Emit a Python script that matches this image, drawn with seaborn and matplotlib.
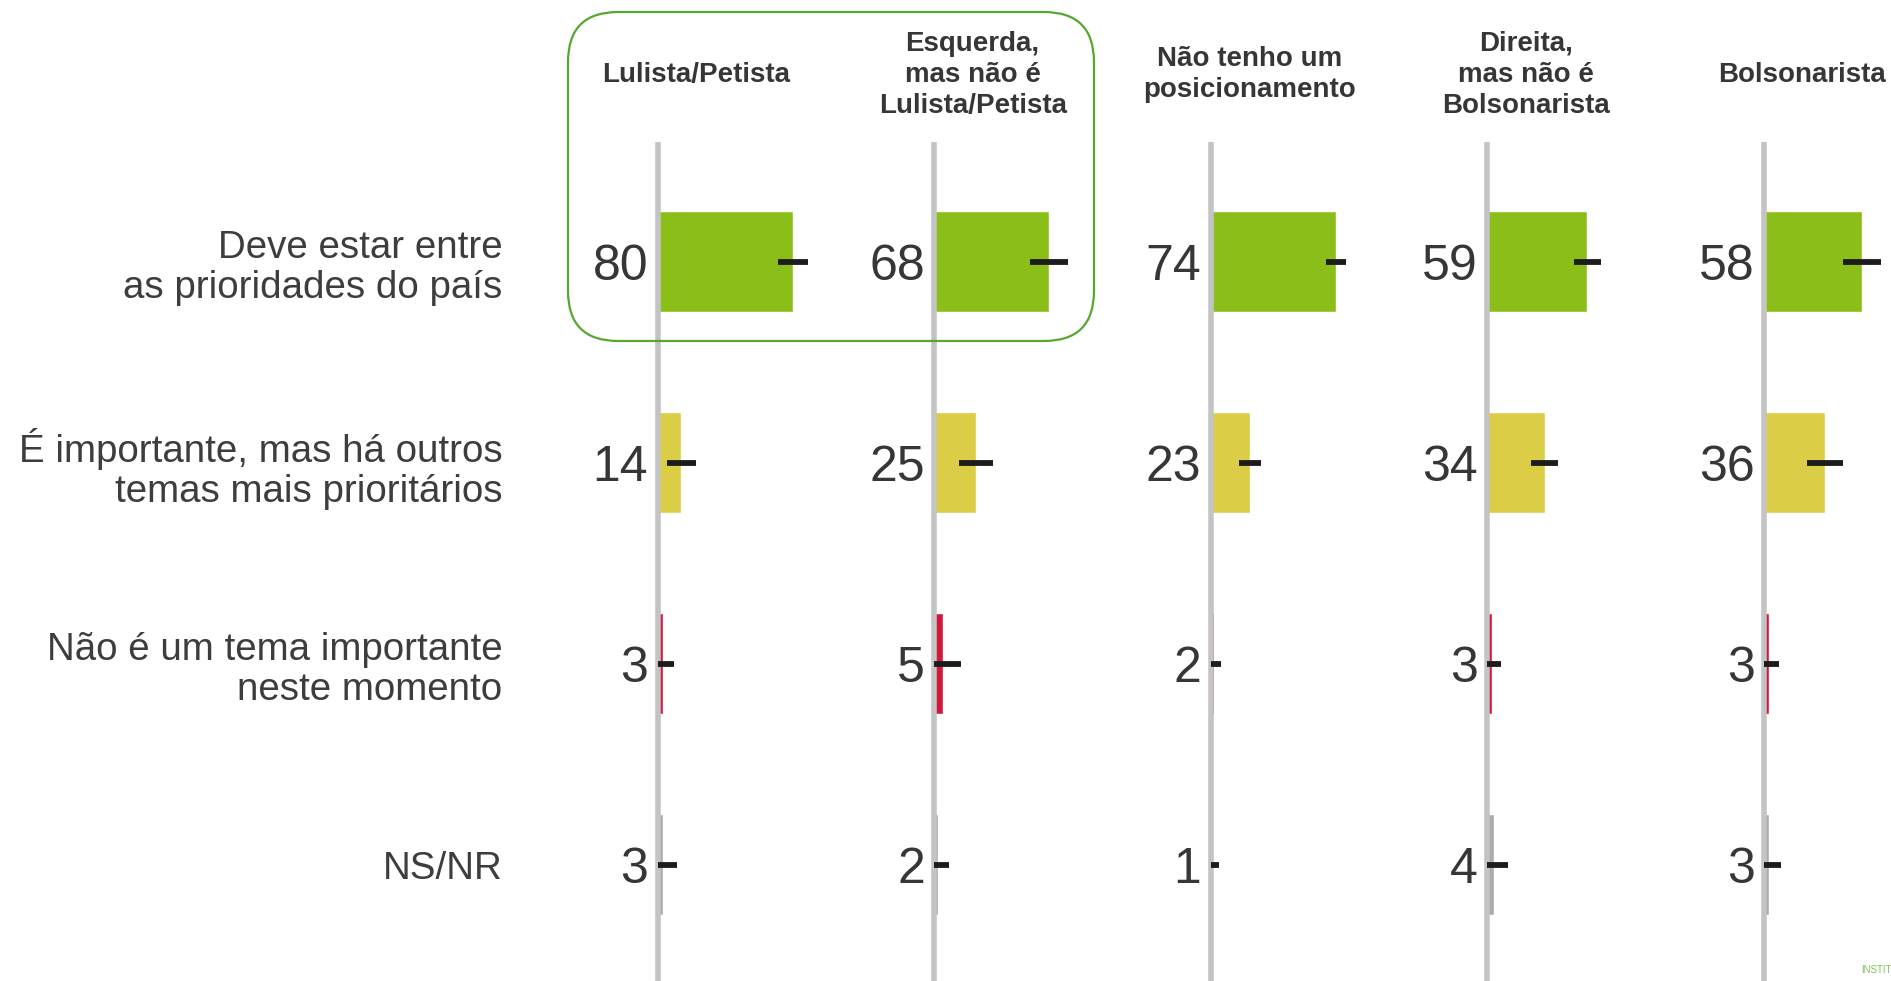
import matplotlib
matplotlib.use("Agg")
import matplotlib.pyplot as plt
from matplotlib.patches import FancyBboxPatch
import numpy as np
import pandas as pd
import seaborn as sns

# dados
grupos = ['Lulista/Petista',
          'Esquerda,\nmas não é\nLulista/Petista',
          'Não tenho um\nposicionamento',
          'Direita,\nmas não é\nBolsonarista',
          'Bolsonarista']
respostas = ['Deve estar entre\nas prioridades do país',
             'É importante, mas há outros\ntemas mais prioritários',
             'Não é um tema importante\nneste momento',
             'NS/NR']

prioridade = [80, 68, 74, 59, 58]
outros_temas = [14, 25, 23, 34, 36]
nao_importante = [3, 5, 2, 3, 3]
ns_nr = [3, 2, 1, 4, 3]

# margem de erro
m_prioridade = [9, 11, 6, 8, 11]
m_outros = [8.5, 10, 6.5, 8, 10.5]
m_nao = [7, 11, 4, 5, 6]
m_nsnr = [8.5, 6.5, 4, 8, 7]

cores = ['#8cbe1a', '#dbcd45', '#d2163c', '#acacac']

linhas = []
for g in range(len(grupos)):
    vals = [prioridade[g], outros_temas[g], nao_importante[g], ns_nr[g]]
    ms = [m_prioridade[g], m_outros[g], m_nao[g], m_nsnr[g]]
    for r in range(len(respostas)):
        linhas.append([grupos[g], respostas[r], vals[r], ms[r]])
df = pd.DataFrame(linhas, columns=['grupo', 'resposta', 'valor', 'margem'])

sns.set_style('white')
plt.rcParams['font.family'] = ['Liberation Sans', 'DejaVu Sans']

W, H = 1891, 981
fig, axes = plt.subplots(1, 5, figsize=(W / 100, H / 100), dpi=100, sharey=True)
fig.subplots_adjust(left=0.3127, right=0.3127 + 5 * 0.14627, bottom=0.0, top=0.8552, wspace=0)

texto = '#363636'
for k, ax in enumerate(axes):
    d = df[df.grupo == grupos[k]]
    sns.barplot(data=d, x='valor', y='resposta', hue='resposta', order=respostas,
                hue_order=respostas, palette=cores, orient='h', width=0.5,
                errorbar=None, legend=False, ax=ax, saturation=1)
    y = np.arange(len(respostas))
    v = d.valor.values
    m = d.margem.values
    lo = v - np.maximum(0, v - m)
    ax.errorbar(v, y, xerr=[lo, m], fmt='none', ecolor='#1c1c1c',
                elinewidth=4.2, capsize=0, zorder=5)
    ax.axvline(0, color='#c4c4c4', lw=4, zorder=3)
    for i in range(len(v)):
        ax.text(-5.5, i + 0.09, str(v[i]), ha='right', va='baseline',
                fontsize=36, color=texto)
    ax.text(22.8, -0.93, grupos[k], ha='center', va='center', fontsize=20,
            fontweight='bold', color=texto, linespacing=1.25)
    ax.set_xlim(-39.2, 124.5)
    ax.set_ylim(3.5786, -0.5955)
    ax.set_xlabel('')
    ax.set_ylabel('')
    ax.set_xticks([])
    sns.despine(ax=ax, left=True, bottom=True)
    if k == 0:
        ax.tick_params(axis='y', length=0, pad=64, labelsize=27.7, labelcolor='#3d3d3d')
        for t in ax.get_yticklabels():
            t.set_linespacing(1.15)
    else:
        ax.tick_params(axis='y', length=0, labelleft=False)

# moldura arredondada e logo
over = fig.add_axes([0, 0, 1, 1])
over.set_xlim(0, W)
over.set_ylim(H, 0)
over.axis('off')
over.add_patch(FancyBboxPatch((568, 12), 526, 329,
                              boxstyle='round,pad=0,rounding_size=50',
                              fc='none', ec='#55a82e', lw=1.6))
over.text(1861, 973, 'INSTITUTO', fontsize=7, color='#7cc45a', ha='left', va='baseline')

plt.savefig('out.png', dpi=100)
